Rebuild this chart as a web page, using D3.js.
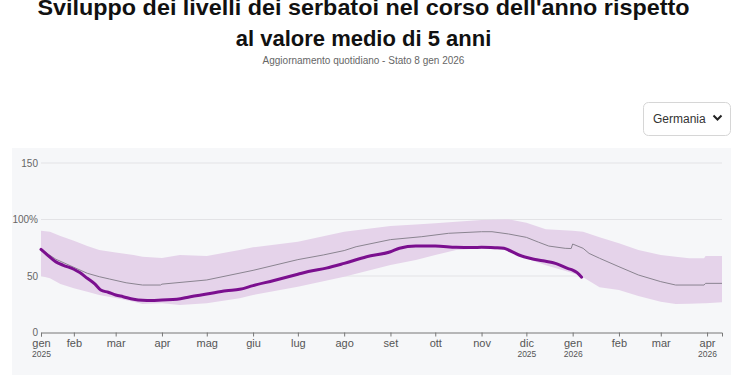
<!DOCTYPE html>
<html><head><meta charset="utf-8">
<script src="https://cdn.jsdelivr.net/npm/d3@7"></script>
<style>
html,body{margin:0;padding:0;background:#fff;}
svg{display:block;font-family:"Liberation Sans",Arial,sans-serif;}
</style></head>
<body>
<svg id="c" width="750" height="375"></svg>
<script>
// ---- data ----
const titleLines = ["Sviluppo dei livelli dei serbatoi nel corso dell'anno rispetto", "al valore medio di 5 anni"];
const subtitle = "Aggiornamento quotidiano - Stato 8 gen 2026";
const country = "Germania";

const currentDates = ["2025-01-10","2025-01-14","2025-01-20","2025-01-25","2025-02-01","2025-02-05","2025-02-10","2025-02-15","2025-02-19","2025-02-24","2025-03-01","2025-03-06","2025-03-13","2025-03-19","2025-03-25","2025-04-01","2025-04-11","2025-04-20","2025-05-01","2025-05-14","2025-05-23","2025-06-01","2025-06-15","2025-07-01","2025-07-08","2025-07-20","2025-08-01","2025-08-16","2025-09-01","2025-09-07","2025-09-18","2025-10-01","2025-10-15","2025-10-26","2025-11-01","2025-11-10","2025-11-16","2025-11-19","2025-11-26","2025-12-04","2025-12-12","2025-12-21","2025-12-29","2026-01-01","2026-01-04","2026-01-07"];
const currentValues = [73.5,69,62.5,59.5,56,53,48,43,37.6,35.6,33.2,31.7,29.4,28.5,28.3,28.8,29.4,31.7,34,37,38.2,41.5,46,51.5,54,57,61.2,67,71.5,74.5,76.5,76.5,75.4,75.2,75.4,75,74.5,73,68.6,65.5,63.5,61,56.5,55.3,53,49];

const meanDates = ["2025-01-10","2025-01-20","2025-02-01","2025-02-10","2025-02-18","2025-02-25","2025-03-08","2025-03-19","2025-03-31","2025-04-01","2025-05-01","2025-06-01","2025-07-01","2025-07-18","2025-08-01","2025-08-09","2025-09-01","2025-09-22","2025-10-10","2025-11-01","2025-11-08","2025-11-19","2025-12-01","2025-12-09","2025-12-16","2025-12-27","2025-12-31","2026-01-01","2026-01-08","2026-01-12","2026-01-19","2026-02-01","2026-02-14","2026-03-01","2026-03-11","2026-03-30","2026-03-31","2026-04-11"];
const meanValues = [73.5,64.8,57.7,52.4,49.4,47.3,44,42,42,42.8,46.5,55,64.5,68.6,72.5,75.9,82.2,84.8,87.8,89.2,89.2,87.2,84.2,80,76.5,74.5,74.3,78.3,74.5,70,65.7,58.2,50.9,45,42,42,43.5,43.5];

const bandDates = ["2025-01-10","2025-01-16","2025-01-23","2025-02-01","2025-02-10","2025-02-18","2025-03-01","2025-03-13","2025-03-19","2025-04-01","2025-04-13","2025-05-01","2025-05-23","2025-06-01","2025-07-01","2025-08-01","2025-09-01","2025-09-18","2025-10-01","2025-10-15","2025-11-01","2025-11-19","2025-12-01","2025-12-14","2025-12-29","2026-01-01","2026-01-08","2026-01-19","2026-02-01","2026-02-14","2026-03-01","2026-03-11","2026-03-20","2026-03-30","2026-03-31","2026-04-11"];
const bandMax = [90,89.2,85.4,81.2,76.5,73,70.8,68.6,67,66,68.6,67.7,73,75.4,80.4,89.2,94.2,95.5,96.6,98,99.6,100.2,97.2,91.3,90.2,90,89.2,84.2,78.9,73,68.6,67,65.7,65.7,67.7,67.7];
const bandMin = [50,48,42.9,39.1,36.1,33.2,30.5,27.3,25.2,25.8,24.3,25.8,30.3,33.2,40.5,49.4,59.7,64.2,68.6,73,74.5,72.5,65.5,59.5,53.8,52.5,48.8,40,37.6,32.3,27.3,25.2,25.5,25.8,25.8,26.7];

const xDomain = ["2025-01-10","2026-04-11"];
const tickDates = ["2025-01-10","2025-02-01","2025-03-01","2025-04-01","2025-05-01","2025-06-01","2025-07-01","2025-08-01","2025-09-01","2025-10-01","2025-11-01","2025-12-01","2026-01-01","2026-02-01","2026-03-01","2026-04-01"];
const tickMonths = ["gen","feb","mar","apr","mag","giu","lug","ago","set","ott","nov","dic","gen","feb","mar","apr"];
const tickYears = ["2025","","","","","","","","","","","2025","2026","","","2026"];
const yTicks = [0,50,100,150];
const yTickLabels = ["0","50","100%","150"];

// ---- drawing ----
const parse = d3.utcParse("%Y-%m-%d");
const svg = d3.select("#c");

svg.append("rect").attr("x",12).attr("y",148).attr("width",719).attr("height",240).attr("fill","#f6f7f9");

const x = d3.scaleUtc().domain(xDomain.map(parse)).range([41,722]);
const y = d3.scaleLinear().domain([0,150]).range([332.5,163]);

// title
const tg = svg.append("g").attr("text-anchor","middle");
tg.selectAll("text.t").data(titleLines).join("text").attr("class","t")
  .attr("x",363.5).attr("y",(d,i)=>15+i*31)
  .attr("font-size",22).attr("font-weight","bold").attr("fill","#111")
  .each(function(d,i){ if(i===0) d3.select(this).attr("textLength",652).attr("lengthAdjust","spacingAndGlyphs"); })
  .text(d=>d);
tg.append("text").attr("x",363.5).attr("y",63.5).attr("font-size",10).attr("fill","#666").text(subtitle);

// dropdown
const dd = svg.append("g");
dd.append("rect").attr("x",643.5).attr("y",102.5).attr("width",87).attr("height",33).attr("rx",5)
  .attr("fill","#fff").attr("stroke","#d6d6d6");
dd.append("text").attr("x",653).attr("y",123).attr("font-size",12).attr("fill","#333").text(country);
dd.append("path").attr("d","M713.5,115.5 L717.5,119.5 L721.5,115.5").attr("fill","none")
  .attr("stroke","#222").attr("stroke-width",2);

// grid
svg.append("g").selectAll("line").data(yTicks.filter(v=>v>0)).join("line")
  .attr("x1",41).attr("x2",722).attr("y1",d=>y(d)).attr("y2",d=>y(d))
  .attr("stroke","#e3e3e6").attr("stroke-width",1);
svg.append("g").selectAll("text").data(yTicks).join("text")
  .attr("x",38).attr("y",d=>y(d)).attr("dy","0.35em").attr("text-anchor","end")
  .attr("font-size",10).attr("fill","#666").text((d,i)=>yTickLabels[i]);

// band
const area = d3.area().x(d=>x(d.date)).y0(d=>y(d.min)).y1(d=>y(d.max));
const bandData = bandDates.map((d,i)=>({date:parse(d),min:bandMin[i],max:bandMax[i]}));
svg.append("path").datum(bandData).attr("d",area).attr("fill","#e5d3ea");

// mean
const line = d3.line().x(d=>x(d.date)).y(d=>y(d.v));
svg.append("path").datum(meanDates.map((d,i)=>({date:parse(d),v:meanValues[i]})))
  .attr("d",line).attr("fill","none").attr("stroke","#8a8490").attr("stroke-width",1);

// current
svg.append("path").datum(currentDates.map((d,i)=>({date:parse(d),v:currentValues[i]})))
  .attr("d",line.curve(d3.curveMonotoneX)).attr("fill","none").attr("stroke","#7b0f8f").attr("stroke-width",3)
  .attr("stroke-linejoin","round").attr("stroke-linecap","round");

// x axis
const ax = svg.append("g").attr("transform","translate(0,332.5)")
  .call(d3.axisBottom(x).tickValues(tickDates.map(parse)).tickSize(4).tickFormat(""));
ax.select(".domain").attr("stroke","#777");
ax.selectAll(".tick line").attr("stroke","#777");
const tk = ax.selectAll(".tick");
tk.append("text").attr("y",14).attr("text-anchor","middle").attr("font-size",11).attr("fill","#555")
  .text((d,i)=>tickMonths[i]);
tk.append("text").attr("y",24).attr("text-anchor","middle").attr("font-size",8.5).attr("fill","#555")
  .text((d,i)=>tickYears[i]);
</script>
</body></html>
